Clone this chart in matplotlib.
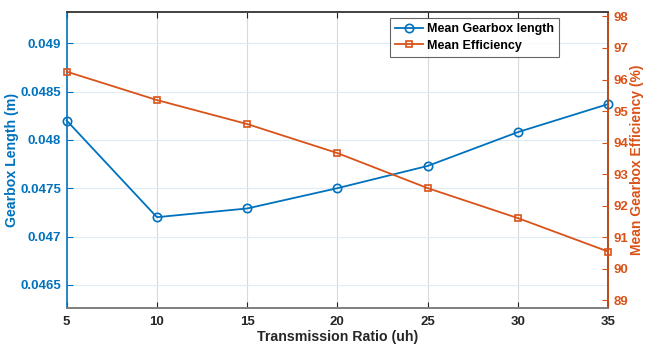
import matplotlib.pyplot as plt

ratio = [5, 10, 15, 20, 25, 30, 35]
gearbox_length = [0.04820, 0.04720, 0.04729, 0.04750, 0.04773, 0.04808, 0.04837]
efficiency = [96.25, 95.35, 94.59, 93.67, 92.56, 91.61, 90.55]

left_ticks = [0.0465, 0.047, 0.0475, 0.048, 0.0485, 0.049]
left_labels = ['0.0465', '0.047', '0.0475', '0.048', '0.0485', '0.049']
right_ticks = [89, 90, 91, 92, 93, 94, 95, 96, 97, 98]

blue = '#0072BD'
orange = '#D95319'

plt.rcParams['font.family'] = ['Liberation Sans', 'DejaVu Sans']
plt.rcParams['font.weight'] = 'bold'

fig = plt.figure(figsize=(6.45, 3.49), dpi=100)
ax = fig.add_axes([0.1034, 0.1175, 0.8392, 0.849])
ax2 = ax.twinx()

l1, = ax.plot(ratio, gearbox_length, '-o', color=blue, lw=1.3, ms=6,
              mfc='none', mew=1.2, label='Mean Gearbox length', clip_on=False)
l2, = ax2.plot(ratio, efficiency, '-s', color=orange, lw=1.3, ms=5,
               mfc='none', mew=1.2, label='Mean Efficiency', clip_on=False)

ax.set_xlim(5, 35)
ax.set_ylim(0.04626, 0.049327)
ax2.set_ylim(88.76, 98.15)
ax.set_xticks(ratio)
ax.set_yticks(left_ticks)
ax.set_yticklabels(left_labels)
ax2.set_yticks(right_ticks)

# grid: vertical gray, horizontal light blue
for x in ratio[1:-1]:
    ax.axvline(x, color='#d9d9d9', lw=0.8, zorder=0)
for y in left_ticks:
    ax.axhline(y, color='#deecf7', lw=0.8, zorder=0)

ax.tick_params(axis='x', direction='in', length=4, colors='#262626', labelsize=9.5, pad=6,
               top=True)
ax.tick_params(axis='y', direction='in', length=4, colors=blue, labelsize=9.5, pad=4)
ax2.tick_params(axis='y', direction='in', length=4, colors=orange, labelsize=9.5, pad=4)
for lab in ax.get_xticklabels() + ax.get_yticklabels() + ax2.get_yticklabels():
    lab.set_fontweight('bold')

ax.spines['left'].set_color(blue)
ax.spines['top'].set_color('#404040')
ax.spines['bottom'].set_color('#7f7f7f')
ax2.spines['right'].set_color(orange)
ax2.spines['left'].set_visible(False)
ax2.spines['top'].set_color('#404040')
ax2.spines['bottom'].set_color('#7f7f7f')
for s in ax.spines.values():
    s.set_linewidth(1.2)
for s in ax2.spines.values():
    s.set_linewidth(1.2)

ax.set_xlabel('Transmission Ratio (uh)', fontsize=10.2, fontweight='bold', color='#262626', labelpad=1)
ax.set_ylabel('Gearbox Length (m)', fontsize=10.2, fontweight='bold', color=blue, labelpad=1)
ax2.set_ylabel('Mean Gearbox Efficiency (%)', fontsize=10, fontweight='bold', color=orange, labelpad=1)

leg = ax2.legend(handles=[l1, l2], loc='upper left', bbox_to_anchor=(0.598, 0.978),
                 fontsize=9, frameon=True, fancybox=False, edgecolor='#404040',
                 borderpad=0.4, labelspacing=0.35, handlelength=2.2, handletextpad=0.3,
                 borderaxespad=0)
leg.get_frame().set_linewidth(0.8)
for t in leg.get_texts():
    t.set_fontweight('bold')

fig.savefig('out.png', dpi=100)
